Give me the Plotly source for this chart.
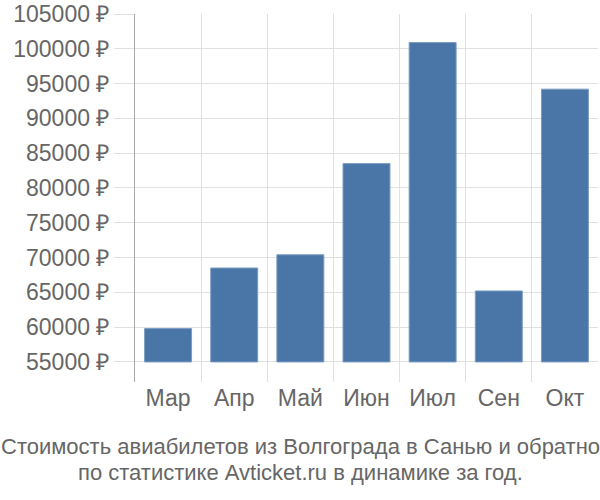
import plotly.graph_objects as go

months = ["Мар", "Апр", "Май", "Июн", "Июл", "Сен", "Окт"]
prices = [59800, 68500, 70400, 83500, 100900, 65200, 94200]
base_price = 55000
tick_vals = list(range(55000, 105001, 5000))
tick_text = [f"{v} ₽" for v in tick_vals]

title_lines = [
    "Стоимость авиабилетов из Волгограда в Санью и обратно",
    "по статистике Avticket.ru в динамике за год.",
]

fig = go.Figure()
fig.add_trace(go.Bar(
    x=months,
    y=[p - base_price for p in prices],
    base=base_price,
    marker=dict(color="#4a76a7", line=dict(color="#7b9cc4", width=1)),
    width=0.71,
    hoverinfo="skip",
))

# caption under the chart, one annotation per line (centred on the page)
for line, ypos in zip(title_lines, [-0.1766, -0.2446]):
    fig.add_annotation(
        text=line, xref="paper", yref="paper",
        x=0.3564, y=ypos, xanchor="center", yanchor="middle",
        showarrow=False, font=dict(size=22, color="#666"),
    )

fig.update_layout(
    width=600, height=500,
    margin=dict(l=135, r=2, t=14, b=118),
    paper_bgcolor="white", plot_bgcolor="white",
    font=dict(family="Liberation Sans, Arial, sans-serif", size=22, color="#666"),
    showlegend=False,
)
fig.update_xaxes(
    showgrid=True, gridcolor="#e0e0e0", gridwidth=1,
    tickson="boundaries", ticks="", showline=False,
    tickfont=dict(size=23, color="#666"),
)
fig.update_yaxes(
    range=[52120, 105000],
    tickvals=tick_vals, ticktext=tick_text,
    showgrid=True, gridcolor="#e0e0e0", gridwidth=1,
    ticks="outside", ticklen=20, tickcolor="#e0e0e0",
    showline=True, linecolor="#aaaaaa", linewidth=1,
    zeroline=False,
    tickfont=dict(size=23, color="#666"),
)

# drop the page's default body margin so the figure sits at the window corner
fig.write_html("out.html", config={"displayModeBar": False},
               post_script="document.body.style.margin='0';")
